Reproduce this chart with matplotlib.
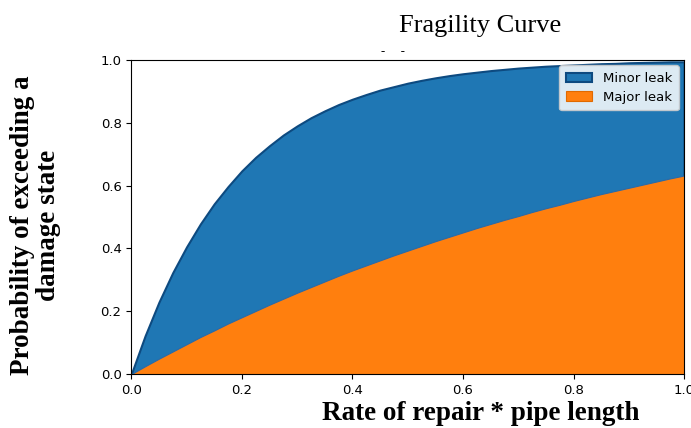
import numpy as np
import matplotlib.pyplot as plt

# values
rate = [0.0, 0.025, 0.05, 0.075, 0.1, 0.125, 0.15, 0.175, 0.2, 0.225,
        0.25, 0.275, 0.3, 0.325, 0.35, 0.375, 0.4, 0.425, 0.45, 0.475,
        0.5, 0.525, 0.55, 0.575, 0.6, 0.625, 0.65, 0.675, 0.7, 0.725,
        0.75, 0.775, 0.8, 0.825, 0.85, 0.875, 0.9, 0.925, 0.95, 0.975, 1.0]
minor_leak = [0.0, 0.122, 0.229, 0.323, 0.405, 0.478, 0.542, 0.597, 0.647, 0.690,
              0.727, 0.761, 0.790, 0.816, 0.838, 0.858, 0.875, 0.890, 0.904, 0.915,
              0.926, 0.935, 0.943, 0.950, 0.956, 0.961, 0.966, 0.970, 0.974, 0.977,
              0.980, 0.982, 0.984, 0.986, 0.988, 0.989, 0.991, 0.992, 0.993, 0.994, 0.994]
major_leak = [0.0, 0.025, 0.049, 0.072, 0.095, 0.118, 0.139, 0.161, 0.181, 0.201,
              0.221, 0.240, 0.259, 0.277, 0.295, 0.313, 0.330, 0.346, 0.362, 0.378,
              0.393, 0.408, 0.423, 0.437, 0.451, 0.465, 0.478, 0.491, 0.503, 0.516,
              0.528, 0.539, 0.551, 0.562, 0.573, 0.583, 0.593, 0.603, 0.613, 0.623, 0.632]

fig = plt.figure(figsize=(6.91, 4.28), dpi=100)
ax = fig.add_axes([0.19, 0.126, 0.80, 0.734])

ax.fill_between(rate, 0, minor_leak, facecolor='#1f77b4', edgecolor='#0d4a80',
                linewidth=1.5, label='Minor leak')
ax.fill_between(rate, 0, major_leak, facecolor='#ff7f0e', edgecolor='#2a6aa8',
                linewidth=0.8, label='Major leak')

ax.set_xlim(0, 1)
ax.set_ylim(0, 1)
ax.set_xticks([0, 0.2, 0.4, 0.6, 0.8, 1.0])
ax.set_yticks([0, 0.2, 0.4, 0.6, 0.8, 1.0])
ax.tick_params(labelsize=9.5)

leg = ax.legend(loc='upper right', fontsize=9.5, handlelength=2.0,
                borderpad=0.5, labelspacing=0.45, framealpha=0.85,
                borderaxespad=0.4)
leg.legend_handles[1].set_edgecolor('#e06a00')

serif = ['Liberation Serif', 'DejaVu Serif']
fig.text(0.695, 0.94, 'Fragility Curve', family=serif, fontsize=19,
         ha='center', va='center')
# stray marks left over under the title
fig.text(0.569, 0.878, '-     -', family=serif, fontsize=9,
         ha='center', va='center')
fig.text(0.695, 0.035, 'Rate of repair * pipe length', family=serif,
         fontsize=19.5, fontweight='bold', ha='center', va='center')
fig.text(0.052, 0.474, 'Probability of exceeding a\ndamage state', family=serif,
         fontsize=19.5, fontweight='bold', ha='center', va='center',
         rotation=90, linespacing=1.05)

fig.savefig('out.png', dpi=100)
